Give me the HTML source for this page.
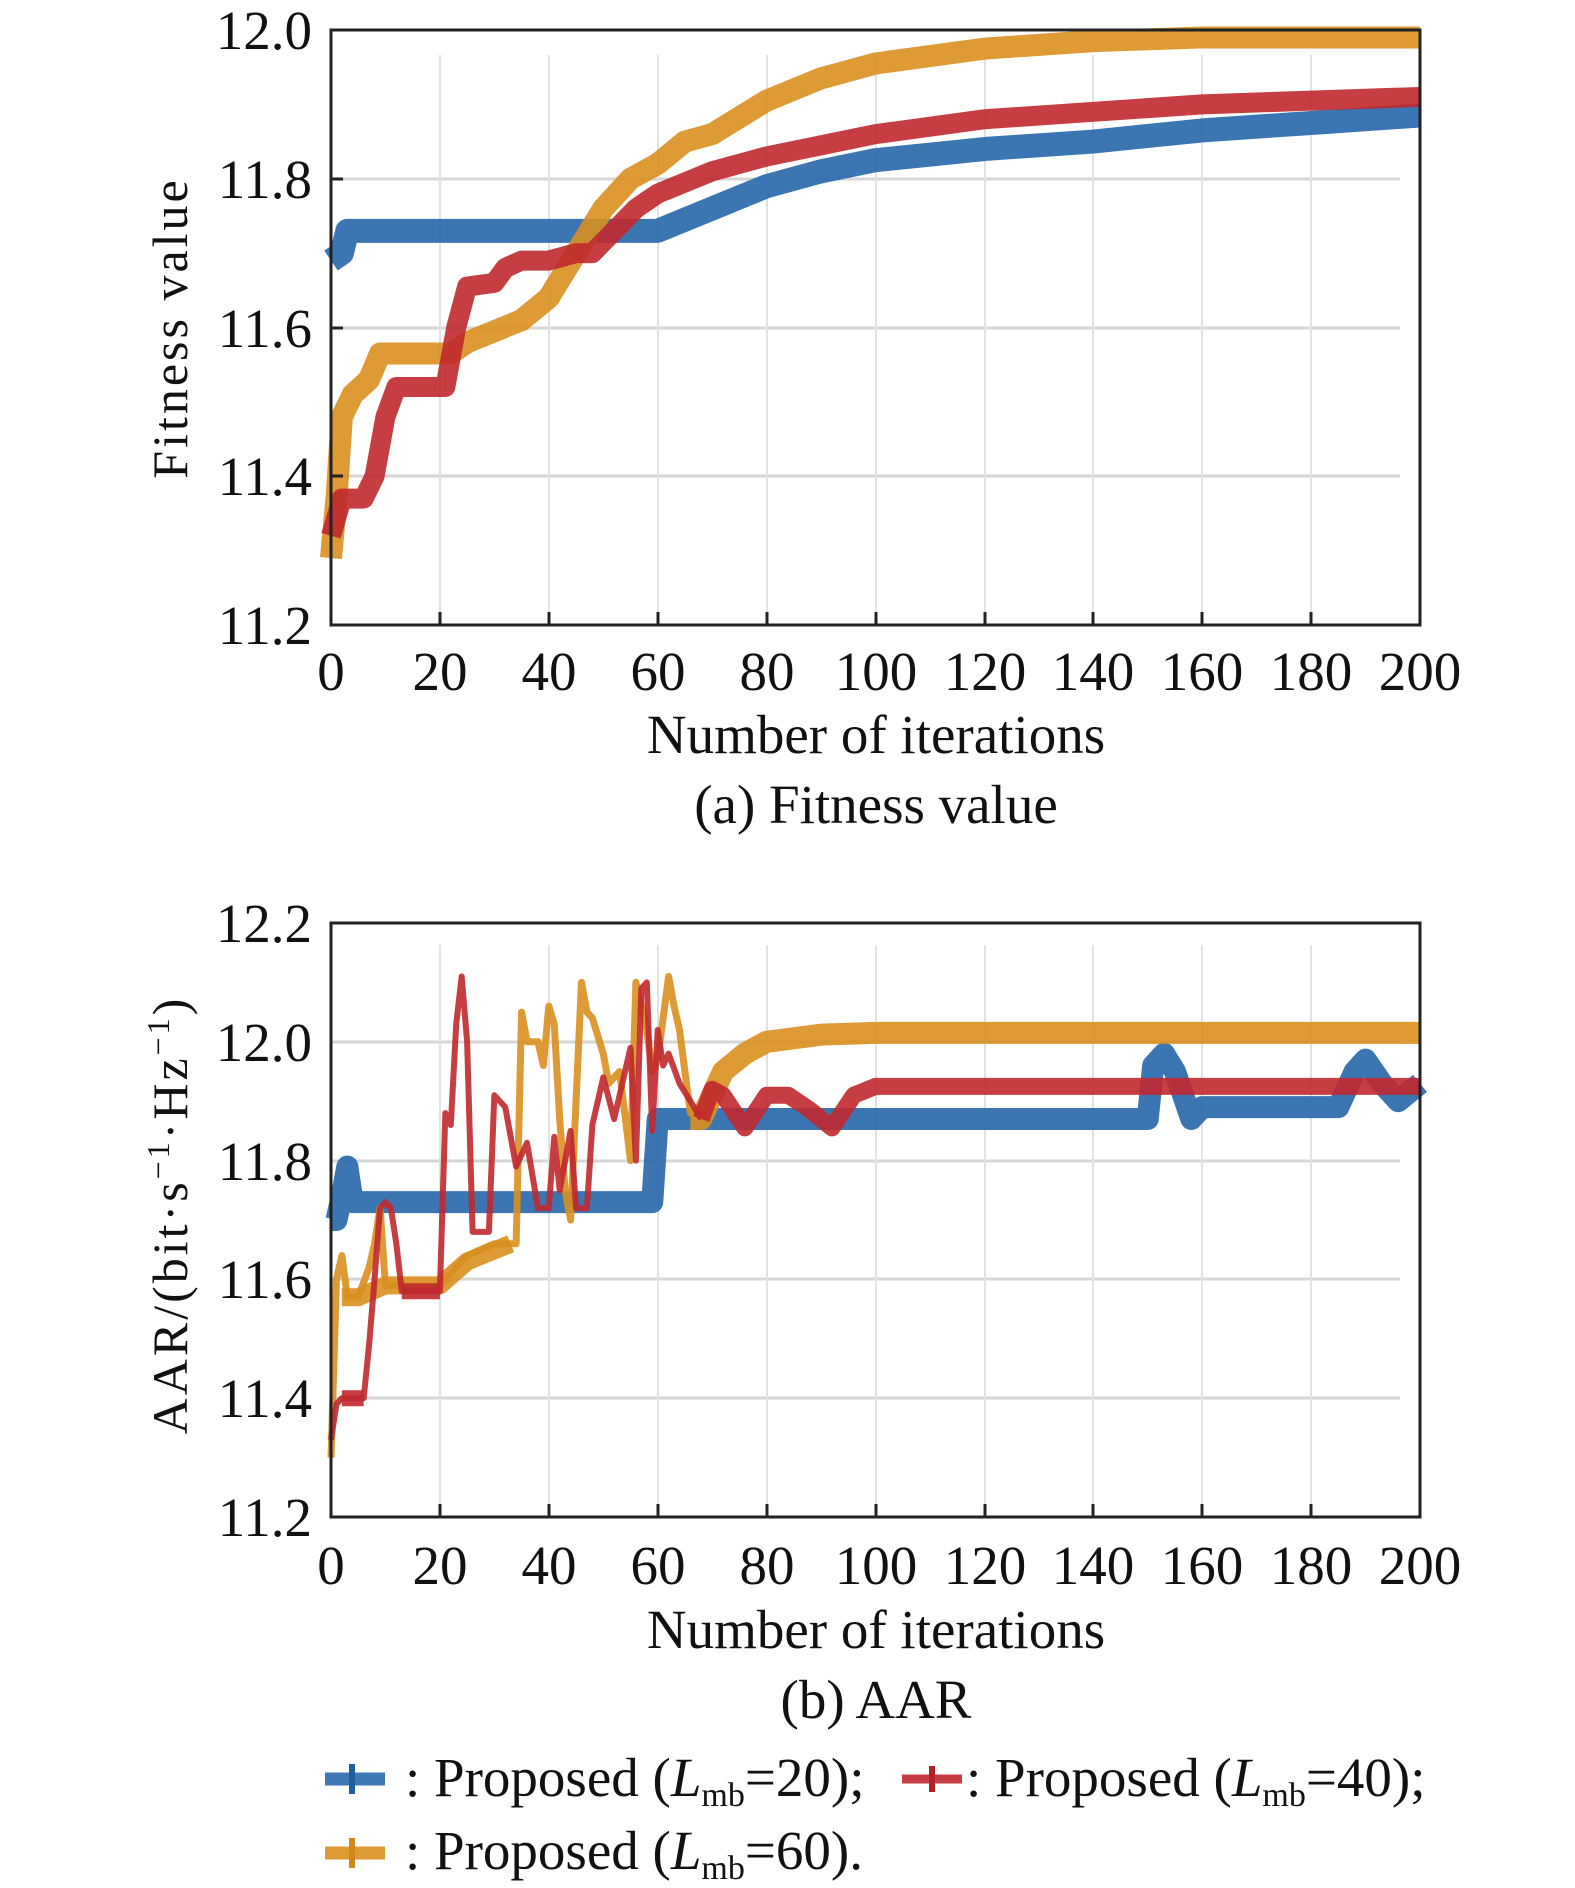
<!DOCTYPE html>
<html><head><meta charset="utf-8"><style>
html,body{margin:0;padding:0;background:#fff;}
svg{display:block;}
text{font-family:"Liberation Serif","Times New Roman",serif;}
</style></head><body>
<svg width="1575" height="1888" viewBox="0 0 1575 1888" xmlns="http://www.w3.org/2000/svg">
<rect width="1575" height="1888" fill="#fff"/>
<!-- ===== Plot A ===== -->
<g stroke="#d6d6d6" stroke-width="3">
<line x1="331" y1="179" x2="1400" y2="179"/><line x1="331" y1="328" x2="1400" y2="328"/><line x1="331" y1="476" x2="1400" y2="476"/>
</g>
<g stroke="#e2e2e2" stroke-width="2">
<line x1="440" y1="55" x2="440" y2="625"/><line x1="549" y1="55" x2="549" y2="625"/><line x1="658" y1="55" x2="658" y2="625"/><line x1="767" y1="55" x2="767" y2="625"/><line x1="876" y1="55" x2="876" y2="625"/><line x1="985" y1="55" x2="985" y2="625"/><line x1="1093" y1="55" x2="1093" y2="625"/><line x1="1202" y1="55" x2="1202" y2="625"/><line x1="1311" y1="55" x2="1311" y2="625"/>
</g>
<g transform="translate(331,625) scale(5.445,-743.75) translate(0,-11.2)" fill="none" stroke-linejoin="round">
<polyline vector-effect="non-scaling-stroke" stroke="#2a6aad" stroke-width="24" stroke-opacity="0.92" points="0,11.69 2,11.70 3,11.73 60,11.73 70,11.76 80,11.79 90,11.81 100,11.825 120,11.84 140,11.85 160,11.865 180,11.875 200,11.885"/>
<polyline vector-effect="non-scaling-stroke" stroke="#d98f1f" stroke-width="22" stroke-opacity="0.9" points="0,11.29 1,11.37 2,11.48 4,11.51 7,11.53 9,11.565 22,11.565 25,11.58 35,11.61 40,11.64 45,11.70 50,11.76 55,11.80 60,11.82 65,11.85 70,11.86 80,11.905 90,11.935 100,11.955 120,11.975 140,11.985 160,11.99 200,11.99"/>
<polyline vector-effect="non-scaling-stroke" stroke="#c0282e" stroke-width="20" stroke-opacity="0.9" points="0,11.32 2,11.37 6,11.37 8,11.40 10,11.48 12,11.52 21,11.52 23,11.60 25,11.655 30,11.66 32,11.68 35,11.69 40,11.69 45,11.70 48,11.70 52,11.73 56,11.76 60,11.78 70,11.81 80,11.83 90,11.845 100,11.86 120,11.88 140,11.89 160,11.90 180,11.905 200,11.91"/>
</g>
<rect x="331" y="30" width="1089" height="595" fill="none" stroke="#222" stroke-width="3"/>
<g stroke="#222" stroke-width="3">
<line x1="440" y1="625" x2="440" y2="612"/><line x1="549" y1="625" x2="549" y2="612"/><line x1="658" y1="625" x2="658" y2="612"/><line x1="767" y1="625" x2="767" y2="612"/><line x1="876" y1="625" x2="876" y2="612"/><line x1="985" y1="625" x2="985" y2="612"/><line x1="1093" y1="625" x2="1093" y2="612"/><line x1="1202" y1="625" x2="1202" y2="612"/><line x1="1311" y1="625" x2="1311" y2="612"/>
<line x1="331" y1="179" x2="343" y2="179"/><line x1="331" y1="328" x2="343" y2="328"/><line x1="331" y1="476" x2="343" y2="476"/>
</g>
<g font-size="55" fill="#111" text-anchor="end">
<text x="312" y="49">12.0</text><text x="312" y="198">11.8</text><text x="312" y="347">11.6</text><text x="312" y="495">11.4</text><text x="312" y="644">11.2</text>
</g>
<g font-size="55" fill="#111" text-anchor="middle">
<text x="331" y="690">0</text><text x="440" y="690">20</text><text x="549" y="690">40</text><text x="658" y="690">60</text><text x="767" y="690">80</text><text x="876" y="690">100</text><text x="985" y="690">120</text><text x="1093" y="690">140</text><text x="1202" y="690">160</text><text x="1311" y="690">180</text><text x="1420" y="690">200</text>
<text x="876" y="753">Number of iterations</text>
<text x="876" y="823">(a) Fitness value</text>
</g>
<text transform="translate(187,328) rotate(-90)" font-size="50" text-anchor="middle" letter-spacing="3" fill="#111">Fitness value</text>

<!-- ===== Plot B ===== -->
<g stroke="#d6d6d6" stroke-width="3">
<line x1="331" y1="1042" x2="1400" y2="1042"/><line x1="331" y1="1161" x2="1400" y2="1161"/><line x1="331" y1="1279" x2="1400" y2="1279"/><line x1="331" y1="1398" x2="1400" y2="1398"/>
</g>
<g stroke="#e2e2e2" stroke-width="2">
<line x1="440" y1="945" x2="440" y2="1517"/><line x1="549" y1="945" x2="549" y2="1517"/><line x1="658" y1="945" x2="658" y2="1517"/><line x1="767" y1="945" x2="767" y2="1517"/><line x1="876" y1="945" x2="876" y2="1517"/><line x1="985" y1="945" x2="985" y2="1517"/><line x1="1093" y1="945" x2="1093" y2="1517"/><line x1="1202" y1="945" x2="1202" y2="1517"/><line x1="1311" y1="945" x2="1311" y2="1517"/>
</g>
<g transform="translate(331,1517) scale(5.445,-594) translate(0,-11.2)" fill="none" stroke-linejoin="round">
<polyline vector-effect="non-scaling-stroke" stroke="#2a6aad" stroke-width="22" stroke-opacity="0.92" points="0,11.70 1,11.70 2,11.74 3,11.79 4,11.73 59,11.73 60,11.87 150,11.87 151,11.96 153,11.98 155,11.95 158,11.87 160,11.89 185,11.89 188,11.95 190,11.97 193,11.93 196,11.90 200,11.93"/>
<polyline vector-effect="non-scaling-stroke" stroke="#d98f1f" stroke-width="7" stroke-opacity="0.9" points="0,11.30 1,11.60 2,11.64 3,11.57 5,11.57 7,11.62 8,11.66 9,11.72 10,11.59 20,11.59 22,11.61 25,11.64 30,11.66 34,11.66 35,12.05 36,12.00 38,12.00 39,11.96 40,12.06 41,12.03 42,11.87 43,11.75 44,11.70 46,12.10 47,12.05 48,12.04 49,12.01 50,11.98 51,11.93 53,11.95 55,11.80 56,12.10 58,12.02 59,11.95 60,11.97 62,12.11 63,12.06 64,12.02 66,11.88 68,11.87"/>
<polyline vector-effect="non-scaling-stroke" stroke="#d98f1f" stroke-width="18" stroke-opacity="0.9" points="2,11.57 5,11.57 10,11.59 20,11.59 25,11.63 33,11.66"/>
<polyline vector-effect="non-scaling-stroke" stroke="#d98f1f" stroke-width="22" stroke-opacity="0.9" points="66,11.87 68,11.87 70,11.91 72,11.95 76,11.98 80,12.00 90,12.012 100,12.015 200,12.015"/>
<polyline vector-effect="non-scaling-stroke" stroke="#c0282e" stroke-width="6" stroke-opacity="0.9" points="0,11.33 1,11.39 2,11.40 6,11.40 7,11.49 8,11.60 9,11.72 10,11.73 11,11.72 12,11.66 13,11.58 20,11.58 21,11.88 22,11.86 23,12.03 24,12.11 25,12.00 26,11.68 29,11.68 30,11.91 32,11.89 34,11.79 36,11.83 38,11.72 40,11.72 41,11.84 42,11.75 44,11.85 45,11.72 47,11.72 48,11.86 50,11.94 52,11.87 54,11.95 55,11.99 56,11.80 57,12.09 58,12.10 59,11.85 60,12.02 61,11.96 62,11.98 64,11.93 66,11.90 68,11.87"/>
<polyline vector-effect="non-scaling-stroke" stroke="#c0282e" stroke-width="16" stroke-opacity="0.9" points="2,11.40 6,11.40"/>
<polyline vector-effect="non-scaling-stroke" stroke="#c0282e" stroke-width="16" stroke-opacity="0.9" points="13,11.58 20,11.58"/>
<polyline vector-effect="non-scaling-stroke" stroke="#c0282e" stroke-width="17" stroke-opacity="0.9" points="68,11.87 70,11.92 72,11.91 76,11.855 80,11.91 84,11.91 88,11.885 92,11.855 96,11.91 100,11.925 200,11.925"/>
</g>
<rect x="331" y="923" width="1089" height="594" fill="none" stroke="#222" stroke-width="3"/>
<g stroke="#222" stroke-width="3">
<line x1="440" y1="1517" x2="440" y2="1504"/><line x1="549" y1="1517" x2="549" y2="1504"/><line x1="658" y1="1517" x2="658" y2="1504"/><line x1="767" y1="1517" x2="767" y2="1504"/><line x1="876" y1="1517" x2="876" y2="1504"/><line x1="985" y1="1517" x2="985" y2="1504"/><line x1="1093" y1="1517" x2="1093" y2="1504"/><line x1="1202" y1="1517" x2="1202" y2="1504"/><line x1="1311" y1="1517" x2="1311" y2="1504"/>
</g>
<g font-size="55" fill="#111" text-anchor="end">
<text x="312" y="942">12.2</text><text x="312" y="1061">12.0</text><text x="312" y="1180">11.8</text><text x="312" y="1298">11.6</text><text x="312" y="1417">11.4</text><text x="312" y="1536">11.2</text>
</g>
<g font-size="55" fill="#111" text-anchor="middle">
<text x="331" y="1584">0</text><text x="440" y="1584">20</text><text x="549" y="1584">40</text><text x="658" y="1584">60</text><text x="767" y="1584">80</text><text x="876" y="1584">100</text><text x="985" y="1584">120</text><text x="1093" y="1584">140</text><text x="1202" y="1584">160</text><text x="1311" y="1584">180</text><text x="1420" y="1584">200</text>
<text x="876" y="1648">Number of iterations</text>
<text x="876" y="1718">(b) AAR</text>
</g>
<text transform="translate(187,1215) rotate(-90)" font-size="50" text-anchor="middle" letter-spacing="3" fill="#111">AAR/(bit·s<tspan font-size="32" dy="-18">−1</tspan><tspan dy="18">·Hz</tspan><tspan font-size="32" dy="-18">−1</tspan><tspan dy="18">)</tspan></text>

<!-- ===== Legend ===== -->
<g stroke-width="13" stroke-opacity="0.9">
<line x1="325" y1="1779" x2="385" y2="1779" stroke="#2a6aad"/>
<line x1="902" y1="1779" x2="962" y2="1779" stroke="#c0282e" stroke-width="9"/>
<line x1="325" y1="1853" x2="385" y2="1853" stroke="#d98f1f"/>
</g>
<g stroke-width="6">
<line x1="352" y1="1764" x2="352" y2="1794" stroke="#1f5fa0"/>
<line x1="932" y1="1766" x2="932" y2="1792" stroke="#b02026"/>
<line x1="352" y1="1838" x2="352" y2="1868" stroke="#d08818"/>
</g>
<g font-size="55" fill="#111">
<text x="405" y="1796">: Proposed (<tspan font-style="italic">L</tspan><tspan font-size="34" dy="10">mb</tspan><tspan dy="-10">=20);</tspan></text>
<text x="966" y="1796">: Proposed (<tspan font-style="italic">L</tspan><tspan font-size="34" dy="10">mb</tspan><tspan dy="-10">=40);</tspan></text>
<text x="405" y="1869">: Proposed (<tspan font-style="italic">L</tspan><tspan font-size="34" dy="10">mb</tspan><tspan dy="-10">=60).</tspan></text>
</g>
</svg>
</body></html>
